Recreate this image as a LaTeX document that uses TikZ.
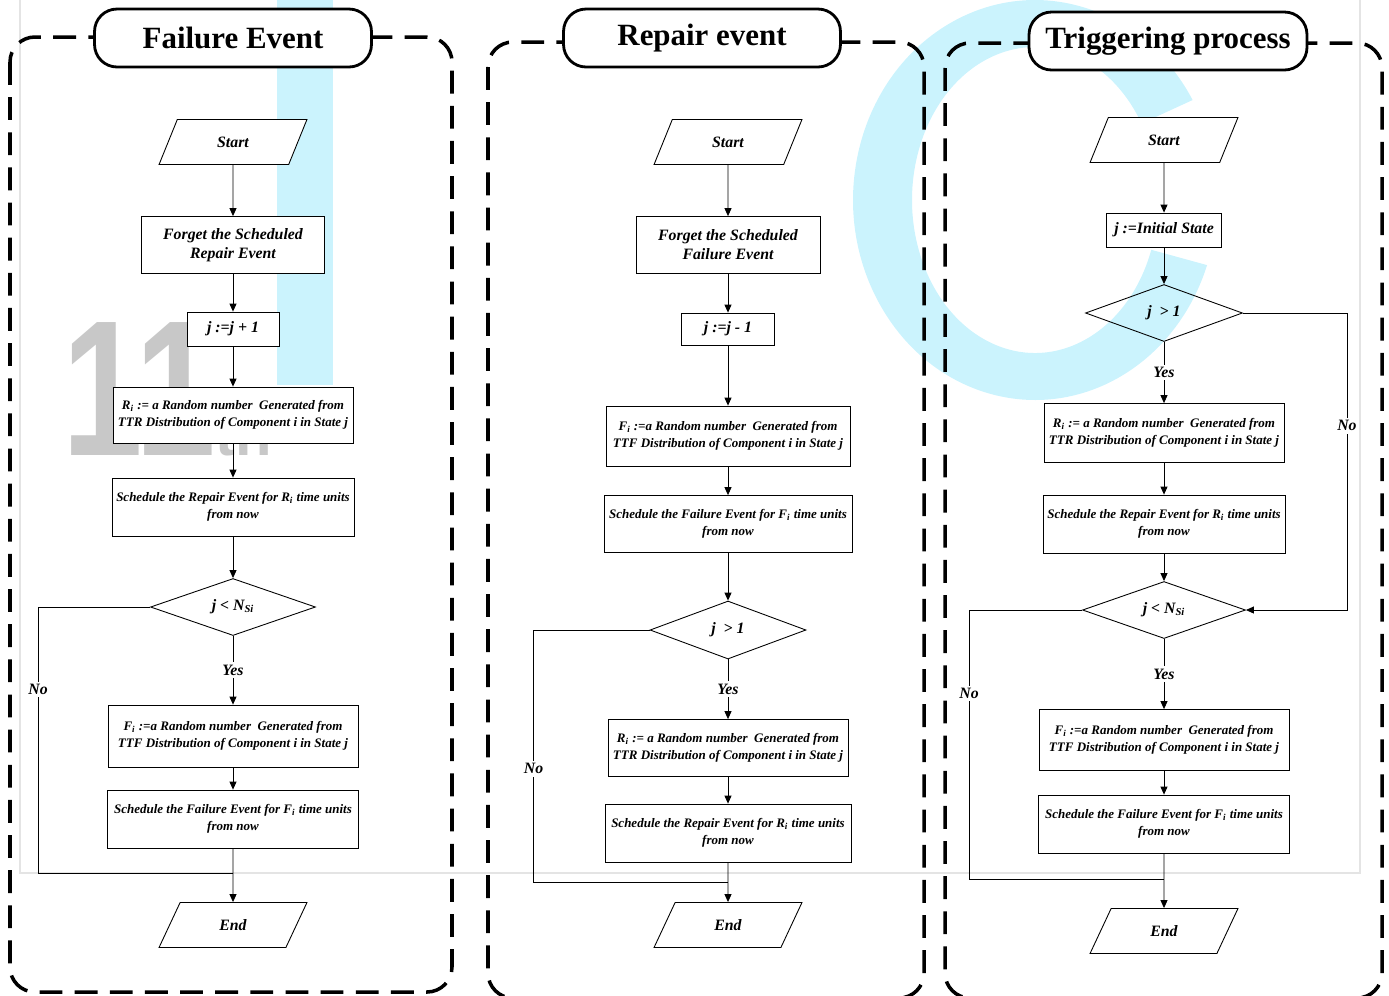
\documentclass[tikz,border=0pt]{standalone}
\usepackage{graphicx}
\usepackage{fontspec}
\setmainfont{Liberation Serif}
\newfontfamily\wmfont{Liberation Sans}
\usepackage{tikz}
\usetikzlibrary{arrows.meta, positioning, shapes.geometric, calc}
\definecolor{wmcyan}{RGB}{203,243,253}
\definecolor{wmgray}{RGB}{200,200,200}
\definecolor{wmframe}{RGB}{228,228,228}

\begin{document}
\begin{tikzpicture}[x=0.02cm, y=-0.02cm, line width=0.5pt, >={Triangle[length=1.6mm, width=1.4mm]},
    panel/.style={draw, line width=2pt, dash pattern=on 13pt off 7pt, rounded corners=0.5cm},
    titlebox/.style={draw, fill=white, line width=1.6pt, rounded corners=0.45cm, minimum width=5.54cm, minimum height=1.16cm, font=\bfseries\fontsize{17.6}{20}\selectfont},
    iobox/.style={trapezium, trapezium left angle=64, trapezium right angle=116, trapezium stretches=true, draw, fill=white, minimum width=2.96cm, minimum height=0.9cm, inner sep=0pt, font=\bfseries\itshape\fontsize{9}{11}\selectfont},
    procbox/.style={rectangle, draw, fill=white, align=center, inner sep=1pt, line width=0.45pt, font=\bfseries\itshape\fontsize{7.4}{9.6}\selectfont},
    bigbox/.style={procbox, font=\bfseries\itshape\fontsize{9}{10.8}\selectfont},
    decision/.style={diamond, draw, aspect=2.8, inner sep=0pt, font=\bfseries\itshape\fontsize{9}{11}\selectfont},
    lbl/.style={fill=white, inner sep=1.5pt, font=\bfseries\itshape\fontsize{9}{11}\selectfont}]
    \useasboundingbox (0,0) rectangle (1389,995);

    % watermark
    \fill[wmcyan] (277,0) rectangle (333,385);
    \coordinate (wmc) at (1035,200);
    \fill[wmcyan] ($(wmc)+(30:3.64cm and 4cm)$) arc[start angle=30, end angle=341, x radius=3.64cm, y radius=4cm]
        -- ($(wmc)+(341:2.46cm and 3.06cm)$) arc[start angle=341, end angle=30, x radius=2.46cm, y radius=3.06cm] -- cycle;
    \node[text=wmgray, anchor=base west, inner sep=0pt, font=\wmfont\bfseries\fontsize{110}{110}\selectfont] (wm-num) at (62,455) {\scalebox{0.75}[1]{11}};
    \node[text=wmgray, anchor=base west, inner sep=0pt, font=\wmfont\bfseries\fontsize{34}{34}\selectfont] (wm-th) at (215,455) {th};
    \draw[wmframe, line width=0.8pt] (20,0) |- (1360,873) -- (1360,0);

    % panels
    \draw[panel] (10,37) rectangle (452,992);
    \draw[panel] (488,42) rectangle (924,998);
    \draw[panel] (945,43) rectangle (1382,998);

    % Failure Event
    \node[titlebox] (fe-title) at (233,38) {Failure Event};
    \node[iobox] (fe-start) at (233,142) {Start};
    \node[bigbox, minimum width=3.66cm, minimum height=1.14cm] (fe-forget) at (233,245) {Forget the Scheduled\\Repair Event};
    \node[bigbox, minimum width=1.84cm, minimum height=0.68cm] (fe-inc) at (233,329) {j :=j + 1};
    \node[procbox, minimum width=4.8cm, minimum height=1.12cm] (fe-randr) at (233,415) {R\textsubscript{i} := a Random number\ \ Generated from\\TTR Distribution of Component i in State j};
    \node[procbox, minimum width=4.84cm, minimum height=1.16cm] (fe-schedr) at (233,507) {Schedule the Repair Event for R\textsubscript{i} time units\\from now};
    \node[decision, minimum width=3.3cm, minimum height=1.14cm] (fe-chk) at (233,607) {j < N\textsubscript{Si}};
    \node[procbox, minimum width=5cm, minimum height=1.24cm] (fe-randf) at (233,736) {F\textsubscript{i} :=a Random number\ \ Generated from\\TTF Distribution of Component i in State j};
    \node[procbox, minimum width=5.02cm, minimum height=1.16cm] (fe-schedf) at (233,819) {Schedule the Failure Event for F\textsubscript{i} time units\\from now};
    \node[iobox] (fe-end) at (233,925) {End};
    \coordinate (fe-m) at (233,873);

    \draw[->] (fe-start) -- (fe-forget);
    \draw[->] (fe-forget) -- (fe-inc);
    \draw[->] (fe-inc) -- (fe-randr);
    \draw[->] (fe-randr) -- (fe-schedr);
    \draw[->] (fe-schedr) -- (fe-chk);
    \draw[->] (fe-chk) -- node[lbl] {Yes} (fe-randf);
    \draw[->] (fe-randf) -- (fe-schedf);
    \draw[->] (fe-schedf) -- (fe-end);
    \draw (fe-chk.west) -- ++(-112,0) |- node[lbl, pos=0.155] {No} (fe-m);

    % Repair event
    \node[titlebox] (re-title) at (702,38) {Repair event};
    \node[iobox] (re-start) at (728,142) {Start};
    \node[bigbox, minimum width=3.68cm, minimum height=1.14cm] (re-forget) at (728,245) {Forget the Scheduled\\Failure Event};
    \node[bigbox, minimum width=1.86cm, minimum height=0.64cm] (re-dec) at (728,329) {j :=j - 1};
    \node[procbox, minimum width=4.88cm, minimum height=1.2cm] (re-randf) at (728,436) {F\textsubscript{i} :=a Random number\ \ Generated from\\TTF Distribution of Component i in State j};
    \node[procbox, minimum width=4.96cm, minimum height=1.14cm] (re-schedf) at (728,524) {Schedule the Failure Event for F\textsubscript{i} time units\\from now};
    \node[decision, minimum width=3.12cm, minimum height=1.16cm] (re-chk) at (728,630) {j \ > 1};
    \node[procbox, minimum width=4.8cm, minimum height=1.14cm] (re-randr) at (728,748) {R\textsubscript{i} := a Random number\ \ Generated from\\TTR Distribution of Component i in State j};
    \node[procbox, minimum width=4.92cm, minimum height=1.16cm] (re-schedr) at (728,833) {Schedule the Repair Event for R\textsubscript{i} time units\\from now};
    \node[iobox] (re-end) at (728,925) {End};
    \coordinate (re-m) at (728,882);

    \draw[->] (re-start) -- (re-forget);
    \draw[->] (re-forget) -- (re-dec);
    \draw[->] (re-dec) -- (re-randf);
    \draw[->] (re-randf) -- (re-schedf);
    \draw[->] (re-schedf) -- (re-chk);
    \draw[->] (re-chk) -- node[lbl] {Yes} (re-randr);
    \draw[->] (re-randr) -- (re-schedr);
    \draw[->] (re-schedr) -- (re-end);
    \draw (re-chk.west) -- ++(-116,0) |- node[lbl, pos=0.275] {No} (re-m);

    % Triggering process
    \node[titlebox, minimum width=5.56cm] (tp-title) at (1168,41) {Triggering process};
    \node[iobox] (tp-start) at (1164,140) {Start};
    \node[bigbox, minimum width=2.3cm, minimum height=0.68cm] (tp-init) at (1164,230) {j :=Initial State};
    \node[decision, minimum width=3.14cm, minimum height=1.14cm] (tp-chk1) at (1164,313) {j \ > 1};
    \node[procbox, minimum width=4.8cm, minimum height=1.18cm] (tp-randr) at (1164,433) {R\textsubscript{i} := a Random number\ \ Generated from\\TTR Distribution of Component i in State j};
    \node[procbox, minimum width=4.84cm, minimum height=1.16cm] (tp-schedr) at (1164,524) {Schedule the Repair Event for R\textsubscript{i} time units\\from now};
    \node[decision, minimum width=3.26cm, minimum height=1.14cm] (tp-chk2) at (1164,610) {j < N\textsubscript{Si}};
    \node[procbox, minimum width=5cm, minimum height=1.22cm] (tp-randf) at (1164,740) {F\textsubscript{i} :=a Random number\ \ Generated from\\TTF Distribution of Component i in State j};
    \node[procbox, minimum width=5.02cm, minimum height=1.16cm] (tp-schedf) at (1164,824) {Schedule the Failure Event for F\textsubscript{i} time units\\from now};
    \node[iobox] (tp-end) at (1164,931) {End};
    \coordinate (tp-m) at (1164,879);

    \draw[->] (tp-start) -- (tp-init);
    \draw[->] (tp-init) -- (tp-chk1);
    \draw[->] (tp-chk1) -- node[lbl] {Yes} (tp-randr);
    \draw[->] (tp-randr) -- (tp-schedr);
    \draw[->] (tp-schedr) -- (tp-chk2);
    \draw[->] (tp-chk2) -- node[lbl] {Yes} (tp-randf);
    \draw[->] (tp-randf) -- (tp-schedf);
    \draw[->] (tp-schedf) -- (tp-end);
    \draw[->] (tp-chk1.east) -- ++(104,0) |- node[lbl, pos=0.19] {No} (tp-chk2.east);
    \draw (tp-chk2.west) -- ++(-113,0) |- node[lbl, pos=0.155] {No} (tp-m);
\end{tikzpicture}
\end{document}
